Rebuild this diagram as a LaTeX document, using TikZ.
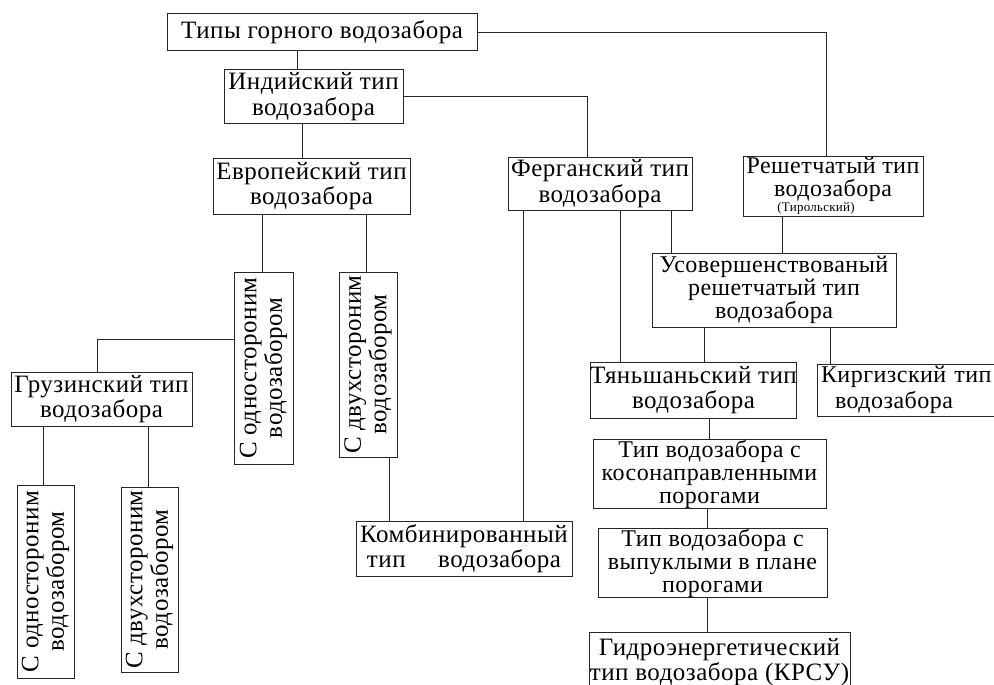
\documentclass[tikz,border=0pt]{standalone}
\usepackage{fontspec}
\setmainfont[LetterSpace=2]{Liberation Serif}
\begin{document}
\begin{tikzpicture}[x=1pt,y=-1pt,
  box/.style={draw=black!85, line width=1pt, inner sep=0pt, align=center,
    font=\fontsize{25}{25.5}\selectfont},
  tight/.style={font=\fontsize{24}{23}\selectfont},
  vbox/.style={box, rotate=90},
  link/.style={draw=black!85, line width=1pt}]
\useasboundingbox (0,0) rectangle (994,685);
\clip (0,0) rectangle (994,685);

% --- boxes ---------------------------------------------------------------
\node[box, minimum width=310, minimum height=37] (top) at (322,32.5)
  {Типы горного водозабора};
\node[box, minimum width=179, minimum height=53] (ind) at (313.5,96.5)
  {Индийский тип\\водозабора};
\node[box, minimum width=197, minimum height=56] (eur) at (311.5,186)
  {Европейский тип\\водозабора};
\node[box, minimum width=184, minimum height=53] (fer) at (600,183.5)
  {Ферганский тип\\водозабора};
\node[box, tight, minimum width=180, minimum height=60] (res) at (833,186)
  {Решетчатый тип\\водозабора\\[-8pt]{\fontsize{13}{13}\selectfont(Тирольский)}\hspace*{34pt}};

\node[vbox, minimum width=192, minimum height=59] (eu1) at (263.5,368)
  {С одностороним\\водозабором};
\node[vbox, minimum width=185, minimum height=58] (eu2) at (368,364.5)
  {С двухстороним\\водозабором};

\node[box, minimum width=181, minimum height=54] (geo) at (101.5,399)
  {Грузинский тип\\водозабора};
\node[vbox, minimum width=193, minimum height=57] (ge1) at (45.5,581.5)
  {С одностороним\\водозабором};
\node[vbox, minimum width=185, minimum height=57] (ge2) at (149.5,579.5)
  {С двухстороним\\водозабором};

\node[box, minimum width=216, minimum height=55] (com) at (464,548.5)
  {Комбинированный\\тип\hspace{1.3em}водозабора};

\node[box, tight, minimum width=244, minimum height=74] (imp) at (774,290)
  {Усовершенствованый\\решетчатый тип\\водозабора};
\node[box, minimum width=203, minimum height=56] (tia) at (693.5,390)
  {Тяньшаньский тип\\водозабора};
\node[box, font=\fontsize{24}{25.5}\selectfont, align=left, text width=180,
      inner xsep=4, minimum height=52] (kir) at (911,390)
  {Киргизский тип\\\hspace*{14pt}водозабора};
\node[box, tight, minimum width=233, minimum height=68] (kos) at (709.5,474)
  {Тип водозабора с\\косонаправленными\\порогами};
\node[box, tight, minimum width=229, minimum height=68] (vyp) at (712.5,563)
  {Тип водозабора с\\выпуклыми в плане\\порогами};
\node[box, minimum width=261, minimum height=60] (hyd) at (719.5,662)
  {Гидроэнергетический\\тип водозабора (КРСУ)};

% --- connectors ----------------------------------------------------------
\draw[link] (top.south -| 297,0) -- (ind.north -| 297,0);
\draw[link] (top.east) -| (res.north -| 826,0);
\draw[link] (ind.east) -| (fer.north -| 587,0);
\draw[link] (ind.south -| 302,0) -- (eur.north -| 302,0);

\draw[link] (eur.south -| 262,0) -- (eu1.east -| 262,0);
\draw[link] (eur.south -| 366,0) -- (eu2.east -| 366,0);
\draw[link] (eu1.north |- 0,339) -| (geo.north -| 97,0);
\draw[link] (geo.south -| 43,0) -- (ge1.east -| 43,0);
\draw[link] (geo.south -| 148,0) -- (ge2.east -| 148,0);
\draw[link] (eu2.west -| 389,0) -- (com.north -| 389,0);

\draw[link] (fer.south -| 523,0) -- (com.north -| 523,0);
\draw[link] (fer.south -| 620,0) -- (tia.north -| 620,0);
\draw[link] (fer.south -| 671,0) -- (imp.north -| 671,0);
\draw[link] (res.south -| 782,0) -- (imp.north -| 782,0);

\draw[link] (imp.south -| 704,0) -- (tia.north -| 704,0);
\draw[link] (imp.south -| 830,0) -- (kir.north -| 830,0);
\draw[link] (tia.south -| 709,0) -- (kos.north -| 709,0);
\draw[link] (kos.south -| 707,0) -- (vyp.north -| 707,0);
\draw[link] (vyp.south -| 707,0) -- (hyd.north -| 707,0);
\end{tikzpicture}
\end{document}
